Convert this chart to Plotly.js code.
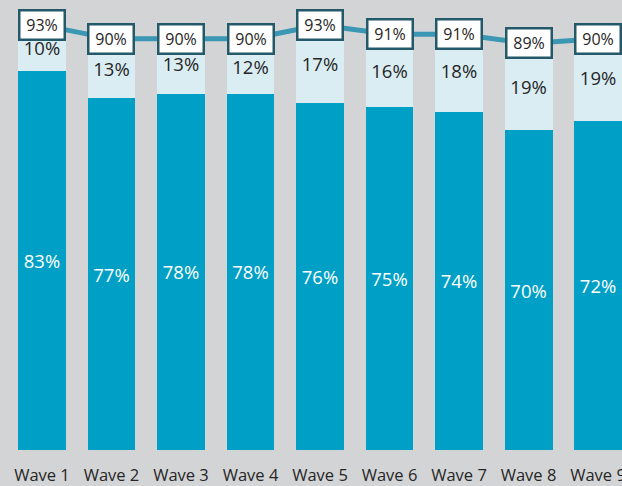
<!DOCTYPE html>
<html><head><meta charset="utf-8">
<script src="https://cdn.plot.ly/plotly-3.0.1.min.js"></script>
<style>html,body{margin:0;padding:0;background:#d3d4d6;}#chart{width:622px;height:486px;}</style>
</head><body><div id="chart"></div>
<script>
const categories = ["Wave 1","Wave 2","Wave 3","Wave 4","Wave 5","Wave 6","Wave 7","Wave 8","Wave 9"];
const darkValues = [83,77,78,78,76,75,74,70,72];
const lightValues = [10,13,13,12,17,16,18,19,19];
const totalValues = [93,90,90,90,93,91,91,89,90];

const xs = categories.map((c,i)=>i);
const font = "Open Sans, Noto Sans, sans-serif";

const traces = [
  {type:'bar', x:xs, y:darkValues, marker:{color:'#00a0c6'}, width:0.69,
   text:darkValues.map(v=>v+'%'), textposition:'inside', insidetextanchor:'middle', textangle:0,
   constraintext:'none', textfont:{color:'#ffffff', size:18.5, family:font}, hoverinfo:'skip'},
  {type:'bar', x:xs, y:lightValues, marker:{color:'#daedf3'}, width:0.69,
   text:lightValues.map(v=>v+'%'), textposition:'inside', insidetextanchor:'middle', textangle:0,
   constraintext:'none', textfont:{color:'#262626', size:18.5, family:font}, hoverinfo:'skip'},
  {type:'scatter', mode:'lines', x:xs, y:totalValues, line:{color:'#3b97b3', width:5}, hoverinfo:'skip'}
];

const annotations = totalValues.map((v,i)=>({
  x:i, y:v, xref:'x', yref:'y', text:v+'%', showarrow:false,
  font:{size:16, color:'#262626', family:font}, bgcolor:'#ffffff',
  bordercolor:'#24596a', borderwidth:2.5, borderpad:1, width:41, height:25
}));

const layout = {
  width:622, height:486, margin:{l:0,r:0,t:0,b:36},
  paper_bgcolor:'#d3d4d6', plot_bgcolor:'#d3d4d6',
  barmode:'stack', showlegend:false,
  xaxis:{range:[-0.604,8.345], tickmode:'array', tickvals:xs, ticktext:categories,
    showgrid:false, zeroline:false, showline:false, ticks:'', ticklabeloverflow:'allow',
    ticklabelstandoff:13,
    tickfont:{size:16.5, color:'#262626', family:font}, fixedrange:true},
  yaxis:{range:[0,98.5], visible:false, showgrid:false, zeroline:false, fixedrange:true},
  annotations:annotations
};
Plotly.newPlot('chart', traces, layout, {displayModeBar:false, staticPlot:true});
</script></body></html>
